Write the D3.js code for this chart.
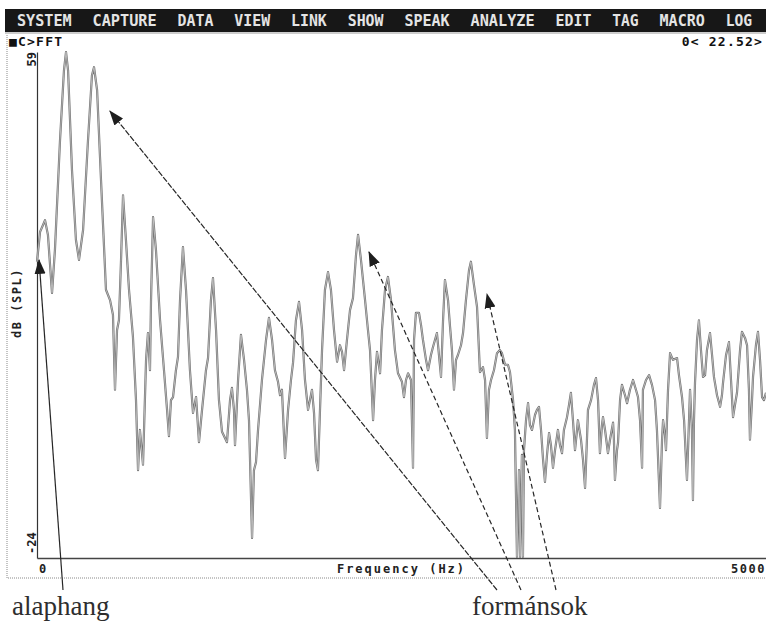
<!DOCTYPE html>
<html>
<head>
<meta charset="utf-8">
<script src="https://cdn.jsdelivr.net/npm/d3@7"></script>
<style>
  body { margin: 0; background: #fff; }
  svg { display: block; }
  .dos { font-family: "DejaVu Sans Mono", monospace; font-weight: bold; }
</style>
</head>
<body>
<script>
// menu bar of the analyser program
const menuItems = ["SYSTEM", "CAPTURE", "DATA", "VIEW", "LINK", "SHOW",
  "SPEAK", "ANALYZE", "EDIT", "TAG", "MACRO", "LOG"];

// axis range and labels
const freqDomain = [0, 5000];
const dbDomain = [-24, 59];
const xTickLabels = ["0", "5000"];
const yTickLabels = ["-24", "59"];

// spectrum: frequency (Hz) and level (dB SPL)
const freqs = [
  0, 21, 55, 75, 103, 123, 158, 185, 199, 213, 240, 267, 288, 316, 350, 377, 391, 412, 439, 473,
  501, 521, 535, 549, 562, 576, 590, 610, 631, 658, 679, 693, 706, 727, 748, 761, 775, 782, 796, 816,
  844, 871, 892, 905, 919, 933, 953, 967, 981, 1001, 1022, 1049, 1070, 1091, 1111, 1132, 1159, 1173, 1193, 1207,
  1228, 1248, 1269, 1303, 1324, 1337, 1351, 1358, 1379, 1399, 1420, 1440, 1454, 1475, 1488, 1502, 1516, 1543, 1571, 1591,
  1612, 1632, 1653, 1667, 1680, 1701, 1722, 1742, 1756, 1776, 1797, 1818, 1838, 1859, 1872, 1886, 1900, 1914, 1927, 1941,
  1955, 1975, 1996, 2016, 2037, 2058, 2078, 2092, 2106, 2126, 2147, 2167, 2188, 2202, 2222, 2250, 2270, 2284, 2305, 2318,
  2332, 2353, 2366, 2387, 2407, 2428, 2455, 2476, 2503, 2517, 2531, 2545, 2565, 2579, 2586, 2599, 2620, 2634, 2647, 2668,
  2682, 2702, 2716, 2730, 2743, 2757, 2771, 2785, 2798, 2819, 2833, 2846, 2860, 2874, 2887, 2908, 2922, 2942, 2963, 2976,
  2997, 3018, 3038, 3059, 3073, 3086, 3100, 3114, 3134, 3155, 3175, 3189, 3210, 3230, 3244, 3265, 3278, 3292, 3306, 3313,
  3326, 3333, 3340, 3354, 3368, 3381, 3395, 3416, 3429, 3443, 3457, 3471, 3484, 3498, 3512, 3525, 3539, 3553, 3573, 3587,
  3601, 3614, 3635, 3649, 3662, 3676, 3690, 3704, 3710, 3731, 3745, 3759, 3772, 3779, 3800, 3820, 3834, 3848, 3861, 3875,
  3882, 3896, 3916, 3930, 3951, 3957, 3964, 3978, 3985, 3999, 4012, 4033, 4047, 4067, 4088, 4108, 4122, 4136, 4150, 4156,
  4177, 4198, 4218, 4239, 4252, 4273, 4287, 4294, 4307, 4314, 4328, 4342, 4362, 4390, 4403, 4424, 4438, 4458, 4472, 4479,
  4492, 4499, 4506, 4513, 4527, 4540, 4554, 4568, 4582, 4595, 4616, 4630, 4643, 4664, 4685, 4698, 4705, 4726, 4746, 4760,
  4774, 4787, 4801, 4822, 4835, 4856, 4870, 4883, 4890, 4904, 4911, 4931, 4945, 4959, 4973, 4986, 5000
];
const levels = [
  24.6, 29.5, 31.4, 29.0, 19.5, 26.5, 44.6, 56.0, 59.0, 56.0, 39.6, 28.2, 24.9, 29.8, 44.6, 55.2, 56.5, 52.8, 38.0, 20.0,
  18.3, 15.9, 3.6, 13.4, 15.0, 24.6, 35.5, 28.2, 20.0, 12.3, 1.9, -9.6, -3.0, -8.7, 8.5, 12.9, 6.8, 18.3, 31.9, 26.5,
  15.0, 6.8, 0.3, -4.0, 1.9, 2.4, 6.8, 9.0, 18.3, 27.0, 20.0, 6.8, -0.2, 2.4, -5.0, 0.3, 6.8, 8.8, 18.3, 21.9,
  13.4, 1.9, -3.3, -5.0, 1.9, 3.9, 0.3, -5.5, 5.2, 12.6, 8.5, 3.6, -1.4, -20.7, -9.6, -8.3, -3.0, 5.2, 11.8, 15.4,
  11.8, 6.8, 4.9, 2.7, 3.6, -7.6, 0.3, 5.2, 8.0, 15.0, 18.0, 13.4, 5.2, 0.3, 1.9, 3.6, -0.2, -7.9, -9.6, 0.3,
  10.1, 20.0, 22.9, 20.0, 13.4, 8.2, 10.9, 9.8, 6.8, 11.8, 16.7, 18.6, 25.7, 29.0, 24.9, 18.3, 13.4, 10.1, -1.4, 5.2,
  9.8, 6.3, 13.4, 20.0, 22.1, 18.3, 10.1, 6.3, 4.9, 2.4, 5.2, 6.3, 5.2, -9.2, 11.8, 16.2, 16.2, 14.2, 11.8, 8.5,
  6.8, 9.3, 10.6, 11.8, 12.9, 9.3, 5.7, 15.0, 21.6, 18.3, 13.9, 10.1, 3.6, 8.5, 9.3, 10.9, 12.9, 18.3, 23.2, 24.6,
  20.8, 17.2, 6.5, 7.3, 5.2, -4.3, 3.6, 5.2, 6.8, 9.6, 10.1, 9.6, 7.7, 7.7, 6.5, 1.9, -3.0, -23.8, -9.6, -23.8,
  -7.1, -23.8, -6.3, -1.4, 1.4, -2.2, -3.0, -0.5, 0.3, 0.8, -3.0, -7.9, -11.5, -7.1, -3.5, -5.5, -9.2, -6.3, -3.0, -5.5,
  -6.8, -3.0, -0.9, 1.1, 3.1, -1.4, -6.3, -3.0, -1.4, -4.6, -7.9, -12.5, -4.6, 0.3, 1.9, 4.4, 5.5, 1.9, -6.8, -2.2,
  -0.9, -3.0, -6.8, -4.6, -1.8, -4.6, -11.2, -6.3, -5.1, 1.9, 4.4, 2.7, 1.4, 3.6, 5.2, 3.6, 2.4, -1.4, -9.2, 3.6,
  5.2, 6.0, 4.4, 1.9, -3.0, -15.8, -4.6, -1.4, -3.8, -6.3, 3.6, 9.6, 8.5, 8.8, 6.0, 2.4, -1.4, -11.2, -1.4, 3.6,
  -3.0, -14.5, -1.4, 4.7, 11.8, 15.0, 10.1, 5.7, 6.0, 10.1, 12.9, 9.3, 5.7, 2.7, 0.8, 2.7, 4.7, 9.3, 11.4, 5.2,
  -0.9, 1.1, 3.1, 10.1, 13.1, 12.1, 10.9, 3.6, -4.6, 1.9, 5.7, 10.9, 13.1, 8.5, 2.4, 1.9, 3.1
];

// annotations: what each arrow points at (Hz, dB) and the caption it comes from
const arrowTargets = [
  {hz: 14, db: 24.9, caption: "alaphang", dash: null},
  {hz: 500, db: 49.3, caption: "formánsok", dash: "6,1.5"},
  {hz: 2277, db: 26.2, caption: "formánsok", dash: "5,3"},
  {hz: 3086, db: 19.3, caption: "formánsok", dash: "5,3"}
];

const W = 766, H = 627;
const svg = d3.select("body").append("svg")
  .attr("width", W)
  .attr("height", H);

const x = d3.scaleLinear().domain(freqDomain).range([37, 766]);
const y = d3.scaleLinear().domain(dbDomain).range([558, 52]);
// text columns of the DOS screen
const col = d3.scaleLinear().domain([0, 1]).range([7.5, 16.95]);

// menu bar
svg.append("rect")
  .attr("x", 5).attr("y", 9)
  .attr("width", W - 5).attr("height", 23)
  .attr("fill", "#171717");
svg.append("line")
  .attr("x1", 5).attr("x2", W)
  .attr("y1", 33).attr("y2", 33)
  .attr("stroke", "#9a9a9a");

let c = 1;
const menuCols = menuItems.map(m => { const s = c; c += m.length + 2; return s; });
svg.append("g").selectAll("text")
  .data(menuItems)
  .enter()
  .append("text")
  .attr("class", "dos")
  .attr("x", (d, i) => col(menuCols[i]))
  .attr("y", 26)
  .attr("textLength", d => d.length * 9.45 - 2)
  .attr("lengthAdjust", "spacingAndGlyphs")
  .style("font-size", "15px")
  .attr("fill", "#e4e4e4")
  .text(d => d);

// status line
svg.append("text")
  .attr("class", "dos")
  .attr("x", 9).attr("y", 46)
  .attr("textLength", 53).attr("lengthAdjust", "spacing")
  .style("font-size", "13px")
  .attr("fill", "#111")
  .text("\u25A0C>FFT");
svg.append("text")
  .attr("class", "dos")
  .attr("x", 763).attr("y", 46)
  .attr("text-anchor", "end")
  .style("font-size", "13px")
  .style("letter-spacing", "1.2px")
  .attr("fill", "#111")
  .text("0< 22.52>");

// dotted window frame
svg.append("path")
  .attr("d", `M7,35 V578 H${W}`)
  .attr("fill", "none")
  .attr("stroke", "#8a8a8a")
  .attr("stroke-dasharray", "1,1");

// axes, lines only
const yAxis = svg.append("g")
  .attr("transform", "translate(37,0)")
  .call(d3.axisLeft(y).tickValues([]).tickSizeOuter(0));
yAxis.select(".domain").attr("stroke", "#333").attr("stroke-width", 1.2);

const xAxis = svg.append("g")
  .attr("transform", "translate(0,558)")
  .call(d3.axisBottom(x).tickValues([]).tickSizeOuter(0));
xAxis.select(".domain").attr("stroke", "#444").attr("stroke-width", 1.6);

// axis labels
svg.append("g").selectAll("text")
  .data(yTickLabels)
  .enter()
  .append("text")
  .attr("class", "dos")
  .attr("transform", (d, i) => `translate(36,${i === 0 ? y(dbDomain[0]) - 4 : y(dbDomain[1])}) rotate(-90)`)
  .attr("text-anchor", (d, i) => i === 0 ? "start" : "end")
  .style("font-size", "12px")
  .attr("fill", "#222")
  .text(d => d);

svg.append("text")
  .attr("class", "dos")
  .attr("transform", "translate(21,303) rotate(-90)")
  .attr("text-anchor", "middle")
  .style("font-size", "12px")
  .style("letter-spacing", "1.5px")
  .attr("fill", "#222")
  .text("dB (SPL)");

svg.append("g").selectAll("text")
  .data(xTickLabels)
  .enter()
  .append("text")
  .attr("class", "dos")
  .attr("x", (d, i) => i === 0 ? x(freqDomain[0]) + 2 : x(freqDomain[1]))
  .attr("y", 573)
  .attr("text-anchor", (d, i) => i === 0 ? "start" : "end")
  .style("font-size", "12px")
  .style("letter-spacing", "1.5px")
  .attr("fill", "#222")
  .text(d => d);

svg.append("text")
  .attr("class", "dos")
  .attr("x", (x.range()[0] + x.range()[1]) / 2)
  .attr("y", 573)
  .attr("text-anchor", "middle")
  .style("font-size", "12px")
  .style("letter-spacing", "2px")
  .attr("fill", "#222")
  .text("Frequency (Hz)");

// spectrum trace: drawn twice to get the hollow, double-edged screen look
const spectrum = freqs.map((f, i) => [f, levels[i]]);
const line = d3.line()
  .x(d => x(d[0]))
  .y(d => y(d[1]));

svg.append("path")
  .datum(spectrum)
  .attr("d", line)
  .attr("fill", "none")
  .attr("stroke", "#727272")
  .attr("stroke-width", 2.2)
  .attr("stroke-linejoin", "round");
svg.append("path")
  .datum(spectrum)
  .attr("d", line)
  .attr("fill", "none")
  .attr("stroke", "#d4d4d4")
  .attr("stroke-width", 0.7)
  .attr("stroke-linejoin", "round");

// captions
const captions = [
  {text: "alaphang", x: 12},
  {text: "formánsok", x: 472}
];
svg.append("g").selectAll("text")
  .data(captions)
  .enter()
  .append("text")
  .attr("x", d => d.x)
  .attr("y", 615)
  .style("font-family", "'Liberation Serif', 'DejaVu Serif', serif")
  .style("font-size", "27px")
  .attr("fill", "#2e2e2e")
  .text(d => d.text);

// arrows
svg.append("defs").append("marker")
  .attr("id", "head")
  .attr("viewBox", "0 -6 15 12")
  .attr("refX", 14).attr("refY", 0)
  .attr("markerUnits", "userSpaceOnUse")
  .attr("markerWidth", 15).attr("markerHeight", 12)
  .attr("orient", "auto")
  .append("path")
  .attr("d", "M0,-5.5L15,0L0,5.5Z")
  .attr("fill", "#1e1e1e");

const tails = [[63, 590], [497, 590], [521, 590], [556, 590]];
svg.append("g").selectAll("line")
  .data(arrowTargets)
  .enter()
  .append("line")
  .attr("x1", (d, i) => tails[i][0])
  .attr("y1", (d, i) => tails[i][1])
  .attr("x2", d => x(d.hz))
  .attr("y2", d => y(d.db))
  .attr("stroke", "#262626")
  .attr("stroke-width", 1.2)
  .attr("stroke-dasharray", d => d.dash)
  .attr("marker-end", "url(#head)");
</script>
</body>
</html>
